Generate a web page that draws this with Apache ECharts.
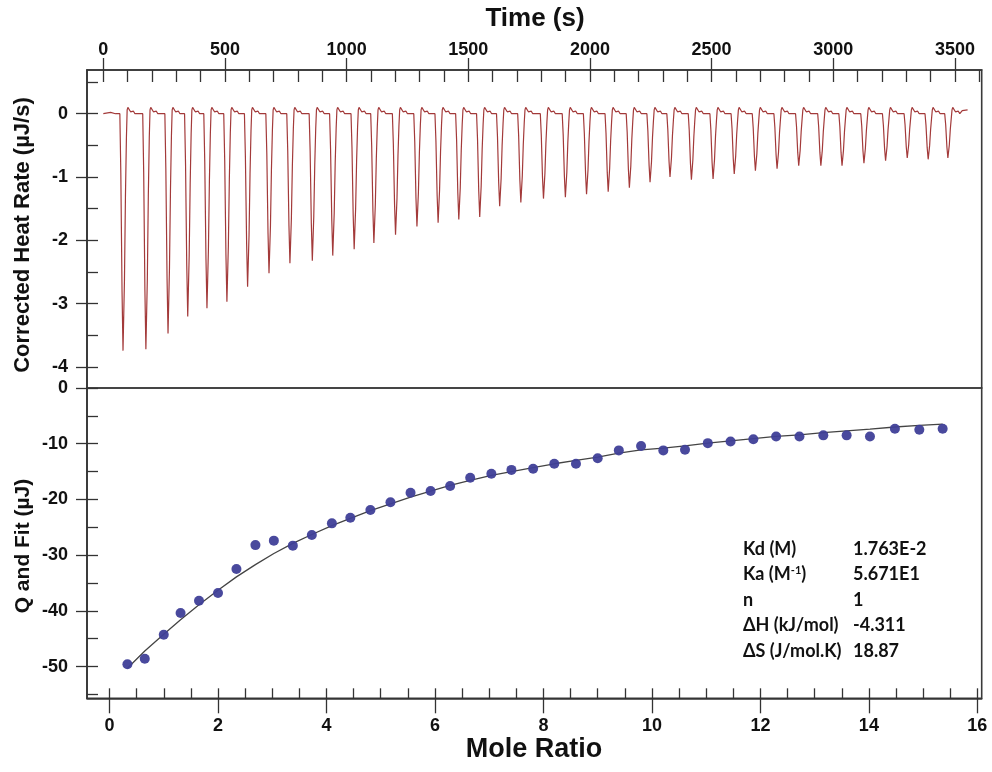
<!DOCTYPE html>
<html>
<head>
<meta charset="utf-8">
<script src="https://cdn.jsdelivr.net/npm/echarts/dist/echarts.min.js"></script>
<style>
html,body{margin:0;padding:0;background:#fff;}
#chart{width:992px;height:772px;}
</style>
</head>
<body>
<div id="chart"></div>
<script>
// ---- Data ----
// Thermogram: time of each injection peak minimum (s) and peak minimum (µJ/s)
const injectionTimes = [82,176,267,348,427,509,594,682,768,860,944,1032,1113,1202,1290,1377,1462,1548,1630,1717,1810,1900,1987,2076,2163,2248,2330,2418,2507,2594,2681,2770,2859,2950,3037,3127,3216,3305,3391,3472];
const peakMinima = [-3.74,-3.72,-3.47,-3.20,-3.07,-2.97,-2.73,-2.52,-2.36,-2.32,-2.24,-2.14,-2.04,-1.91,-1.78,-1.72,-1.67,-1.63,-1.46,-1.40,-1.34,-1.32,-1.27,-1.23,-1.17,-1.08,-1.00,-1.04,-1.03,-0.95,-0.90,-0.87,-0.82,-0.82,-0.82,-0.78,-0.74,-0.70,-0.72,-0.70];
const traceStart = [[0,0],[30,0.02],[50,0]];
const traceEnd = [[3530,0.05],[3552,0.06]];

// Isotherm
const moleRatio = [0.33,0.65,1.00,1.31,1.65,2.00,2.34,2.69,3.03,3.38,3.73,4.10,4.44,4.81,5.18,5.55,5.92,6.28,6.65,7.04,7.41,7.81,8.20,8.60,9.00,9.39,9.80,10.21,10.61,11.03,11.45,11.87,12.29,12.72,13.16,13.59,14.02,14.48,14.93,15.36];
const qValues = [-49.6,-48.6,-44.3,-40.4,-38.2,-36.8,-32.5,-28.2,-27.4,-28.3,-26.4,-24.3,-23.3,-21.9,-20.5,-18.8,-18.5,-17.6,-16.1,-15.4,-14.7,-14.5,-13.6,-13.6,-12.6,-11.2,-10.4,-11.2,-11.1,-9.9,-9.6,-9.2,-8.7,-8.7,-8.5,-8.5,-8.7,-7.3,-7.5,-7.3];
const fitValues = [-50.3,-47.2,-44.2,-41.6,-38.9,-36.3,-33.9,-31.7,-29.7,-27.9,-26.3,-24.7,-23.4,-22.0,-20.8,-19.6,-18.5,-17.5,-16.6,-15.7,-15.0,-14.3,-13.6,-13.0,-12.4,-11.7,-11.1,-10.8,-10.4,-9.9,-9.5,-9.1,-8.7,-8.4,-8.0,-7.7,-7.4,-7.0,-6.7,-6.5];

// Tick labels
const timeTicks = [0,500,1000,1500,2000,2500,3000,3500];
const heatTicks = [0,-1,-2,-3,-4];
const ratioTicks = [0,2,4,6,8,10,12,14,16];
const qTicks = [0,-10,-20,-30,-40,-50];

// Fit parameters text
const statLabels = ['Kd (M)','Ka (M{s|-1})','n','ΔH (kJ/mol)','ΔS (J/mol.K)'];
const statValues = ['1.763E-2','5.671E1','1','-4.311','18.87'];

// ---- Build ----
const timeMinor = []; for (let v = 0; v <= 3600; v += 100) timeMinor.push(v);
const heatMinor = []; for (let v = 0.5; v >= -4.0001; v -= 0.5) heatMinor.push(+v.toFixed(1));
const ratioMinor = []; for (let v = 0; v <= 16; v += 0.5) ratioMinor.push(v);
const qMinor = []; for (let v = 0; v >= -55; v -= 5) qMinor.push(v);

// peak profile: [time offset from minimum, fraction of depth, absolute offset]
const peakProfile = [[-14,0,0],[-10,0.25,0],[-5,0.75,0],[-1,1,0],[1,1,0],[5,0.7,0],[9,0.35,0],[13,0.1,0],[16,0,0.06],[19,0,0.1],[24,0,0.09],[30,0,0.03],[37,0,0.02],[42,0,0.04],[48,0,0]];
const trace = traceStart.slice();
injectionTimes.forEach((t, i) => {
  const d = peakMinima[i];
  peakProfile.forEach(p => trace.push([t + p[0], d * p[1] + p[2]]));
});
traceEnd.forEach(p => trace.push(p));

const points = moleRatio.map((x, i) => [x, qValues[i]]);
const fit = moleRatio.map((x, i) => [x, fitValues[i]]);

const FONT = '"Liberation Sans", Arial, sans-serif';
const SFONT = 'Lato, "Noto Sans", sans-serif';
const AX = '#333';
const GL = 87, GW = 894.7;
const T0 = 70, H0 = 318, T1 = 388, H1 = 310.3;
const tMin = -67, tMax = 3610, hMin = -4.33, hMax = 0.69;
const rMin = -0.415, rMax = 16.08, qMin = -55.7, qMax = 0;

const lab = (vals, margin) => ({show: true, customValues: vals, margin: margin, fontSize: 18, fontWeight: 'bold', fontFamily: FONT, color: '#111', formatter: v => String(v)});
const tick = (vals, len) => ({show: true, customValues: vals, inside: false, length: len, lineStyle: {color: AX, width: 1.3}});
const line = {show: true, onZero: false, lineStyle: {color: AX, width: 1.6}};
const noLine = {show: false, onZero: false};

const chart = echarts.init(document.getElementById('chart'), null, {renderer: 'canvas'});
chart.setOption({
  animation: false,
  backgroundColor: '#fff',
  grid: [
    {left: GL, top: T0, width: GW, height: H0, show: true, borderColor: '#3a3a3a', borderWidth: 1.6, outerBoundsMode: 'none', containLabel: false},
    {left: GL, top: T1, width: GW, height: H1, show: true, borderColor: '#3a3a3a', borderWidth: 1.6, outerBoundsMode: 'none', containLabel: false}
  ],
  xAxis: [
    {gridIndex: 0, type: 'value', position: 'top', min: tMin, max: tMax, axisLine: line, axisTick: tick(timeTicks, 12), axisLabel: lab(timeTicks, 11), splitLine: {show: false}},
    {gridIndex: 0, type: 'value', position: 'bottom', offset: -H0, min: tMin, max: tMax, axisLine: noLine, axisTick: tick(timeMinor, 12), axisLabel: {show: false}, splitLine: {show: false}},
    {gridIndex: 1, type: 'value', position: 'bottom', min: rMin, max: rMax, axisLine: line, axisTick: tick(ratioTicks, 15), axisLabel: lab(ratioTicks, 19), splitLine: {show: false}},
    {gridIndex: 1, type: 'value', position: 'top', offset: -H1, min: rMin, max: rMax, axisLine: noLine, axisTick: tick(ratioMinor, 10), axisLabel: {show: false}, splitLine: {show: false}}
  ],
  yAxis: [
    {gridIndex: 0, type: 'value', position: 'left', min: hMin, max: hMax, axisLine: line, axisTick: tick(heatTicks, 11), axisLabel: lab(heatTicks, 19), splitLine: {show: false}},
    {gridIndex: 0, type: 'value', position: 'right', offset: -GW, min: hMin, max: hMax, axisLine: noLine, axisTick: tick(heatMinor, 11), axisLabel: {show: false}, splitLine: {show: false}},
    {gridIndex: 1, type: 'value', position: 'left', min: qMin, max: qMax, axisLine: line, axisTick: tick(qTicks, 11), axisLabel: lab(qTicks, 19), splitLine: {show: false}},
    {gridIndex: 1, type: 'value', position: 'right', offset: -GW, min: qMin, max: qMax, axisLine: noLine, axisTick: tick(qMinor, 11), axisLabel: {show: false}, splitLine: {show: false}}
  ],
  series: [
    {type: 'line', xAxisIndex: 0, yAxisIndex: 0, data: trace, showSymbol: false, symbol: 'none', lineStyle: {color: '#a33a3a', width: 1.2}, z: 3},
    {type: 'line', xAxisIndex: 2, yAxisIndex: 2, data: fit, showSymbol: false, symbol: 'none', lineStyle: {color: '#444', width: 1.3}, z: 3},
    {type: 'scatter', xAxisIndex: 2, yAxisIndex: 2, data: points, symbol: 'circle', symbolSize: 10, itemStyle: {color: '#3f3f98', opacity: 0.95}, z: 4}
  ],
  graphic: [
    {type: 'text', x: 535, y: 19, style: {text: 'Time (s)', font: 'bold 26px ' + FONT, fill: '#111', textAlign: 'center', textVerticalAlign: 'middle'}},
    {type: 'text', x: 534, y: 750, style: {text: 'Mole Ratio', font: 'bold 27px ' + FONT, fill: '#111', textAlign: 'center', textVerticalAlign: 'middle'}},
    {type: 'text', x: 23, y: 235, rotation: Math.PI / 2, style: {text: 'Corrected Heat Rate (µJ/s)', font: 'bold 22px ' + FONT, fill: '#111', textAlign: 'center', textVerticalAlign: 'middle'}},
    {type: 'text', x: 23, y: 546, rotation: Math.PI / 2, style: {text: 'Q and Fit (µJ)', font: 'bold 21px ' + FONT, fill: '#111', textAlign: 'center', textVerticalAlign: 'middle'}}
  ].concat(statLabels.map((s, i) => ({
    type: 'text', x: 743, y: 549 + i * 25.5,
    style: {text: s, font: 'bold 18px ' + SFONT, fill: '#111', textAlign: 'left', textVerticalAlign: 'middle',
      rich: {s: {font: 'bold 11px ' + SFONT, fill: '#111', verticalAlign: 'top', padding: [0, 0, 8, 0]}}}
  }))).concat(statValues.map((s, i) => ({
    type: 'text', x: 853, y: 549 + i * 25.5,
    style: {text: s, font: 'bold 18px ' + SFONT, fill: '#111', textAlign: 'left', textVerticalAlign: 'middle'}
  })))
});
</script>
</body>
</html>
